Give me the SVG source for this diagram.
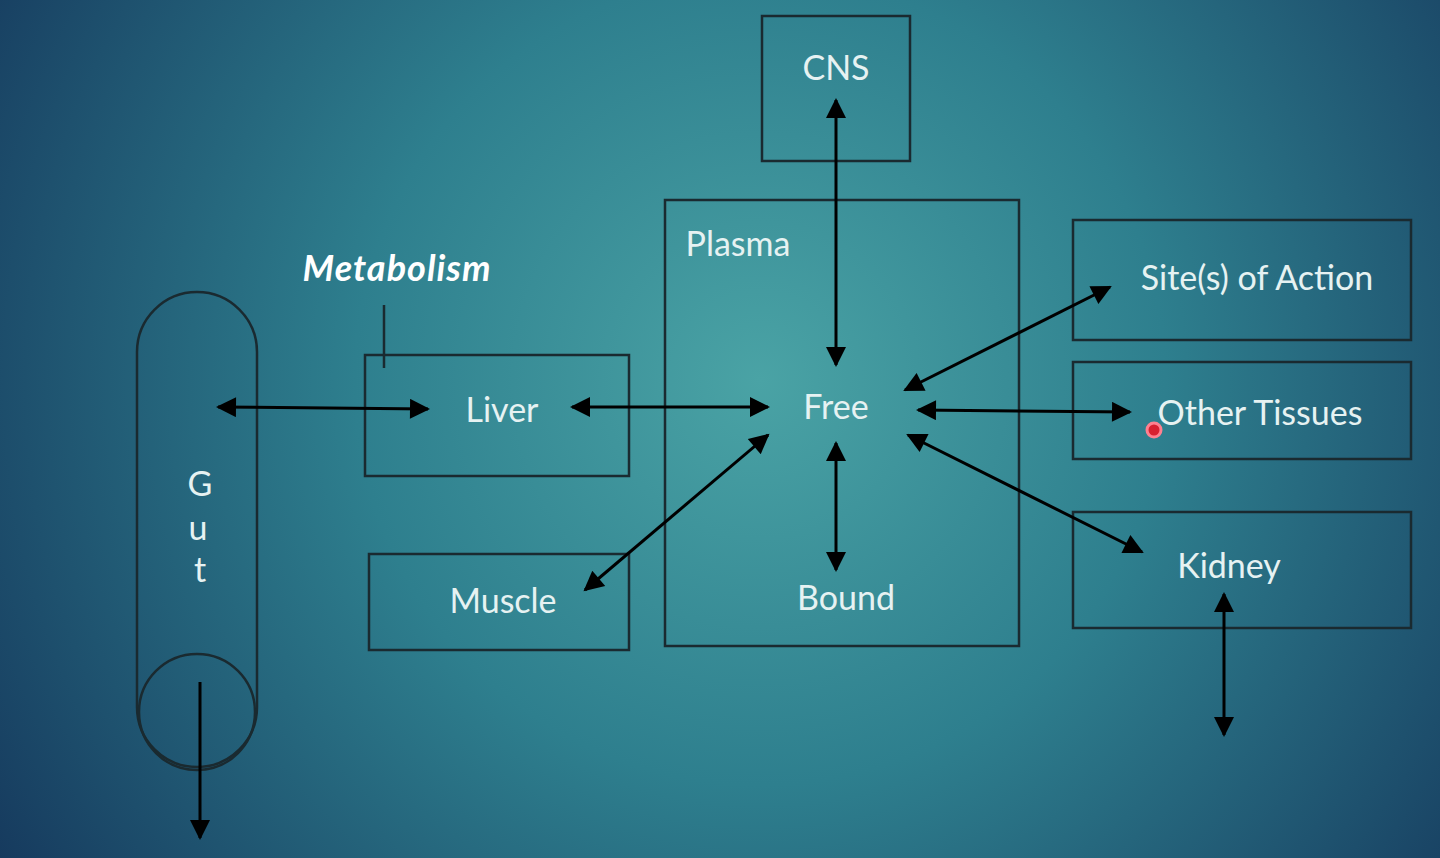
<svg xmlns="http://www.w3.org/2000/svg" width="1440" height="858" viewBox="0 0 1440 858">
<defs>
<radialGradient id="bg" cx="760" cy="380" r="900" gradientUnits="userSpaceOnUse">
<stop offset="0" stop-color="#4aa3a5"/>
<stop offset="0.45" stop-color="#2e7f8e"/>
<stop offset="1" stop-color="#163a5e"/>
</radialGradient>
<marker id="ah" viewBox="0 0 10 10" refX="9" refY="5" markerWidth="22" markerHeight="20" orient="auto-start-reverse" markerUnits="userSpaceOnUse">
<path d="M0,0 L10,5 L0,10 z" fill="#000"/>
</marker>
<style>
.box{fill:none;stroke:#1a2a30;stroke-width:2.5}
.t{font-family:Lato,"DejaVu Sans",sans-serif;font-size:34px;fill:#e6f2f2;text-anchor:middle}
.c line{stroke:#000;stroke-width:3;marker-start:url(#ah);marker-end:url(#ah)}
</style>
</defs>
<rect width="1440" height="858" fill="url(#bg)"/>
<g id="cns"><rect class="box" x="762" y="16" width="148" height="145"/><text class="t" x="836" y="80">CNS</text></g>
<g id="plasma"><rect class="box" x="665" y="200" width="354" height="446"/><text class="t" x="738" y="256">Plasma</text></g>
<g id="free"><text class="t" x="836" y="419">Free</text></g>
<g id="bound"><text class="t" x="846" y="610">Bound</text></g>
<g id="site"><rect class="box" x="1073" y="220" width="338" height="120"/><text class="t" x="1257" y="290">Site(s) of Action</text></g>
<g id="other"><rect class="box" x="1073" y="362" width="338" height="97"/><text class="t" x="1260" y="425">Other Tissues</text></g>
<g id="kidney"><rect class="box" x="1073" y="512" width="338" height="116"/><text class="t" x="1229" y="578">Kidney</text></g>
<g id="liver"><rect class="box" x="365" y="355" width="264" height="121"/><text class="t" x="502" y="422">Liver</text></g>
<g id="muscle"><rect class="box" x="369" y="554" width="260" height="96"/><text class="t" x="503" y="613">Muscle</text></g>
<g id="metabolism"><text x="397" y="281" font-family="Lato,'DejaVu Sans',sans-serif" font-size="36" font-weight="bold" font-style="italic" letter-spacing="1" fill="#ffffff" text-anchor="middle">Metabolism</text><line x1="384" y1="305" x2="384" y2="368" stroke="#1a2a30" stroke-width="2.5"/></g>
<g id="gut"><rect class="box" x="137" y="292" width="120" height="475" rx="60" ry="60"/><circle class="box" cx="197" cy="712" r="58"/>
<text class="t" x="200" y="496">G</text><text class="t" x="198" y="540">u</text><text class="t" x="200" y="582">t</text></g>
<g class="c" id="connectors">
<line x1="218" y1="407" x2="428" y2="409"/>
<line x1="572" y1="407" x2="768" y2="407"/>
<line x1="836" y1="100" x2="836" y2="365"/>
<line x1="836" y1="443" x2="836" y2="570"/>
<line x1="585" y1="590" x2="768" y2="435"/>
<line x1="905" y1="390" x2="1110" y2="287"/>
<line x1="918" y1="410" x2="1130" y2="412"/>
<line x1="908" y1="435" x2="1142" y2="552"/>
<line x1="1224" y1="594" x2="1224" y2="735"/>
<line x1="200" y1="682" x2="200" y2="838" style="marker-start:none"/>
</g>
<circle cx="1154" cy="430" r="7" fill="#d82030" stroke="#ff8090" stroke-width="3"/>
</svg>
